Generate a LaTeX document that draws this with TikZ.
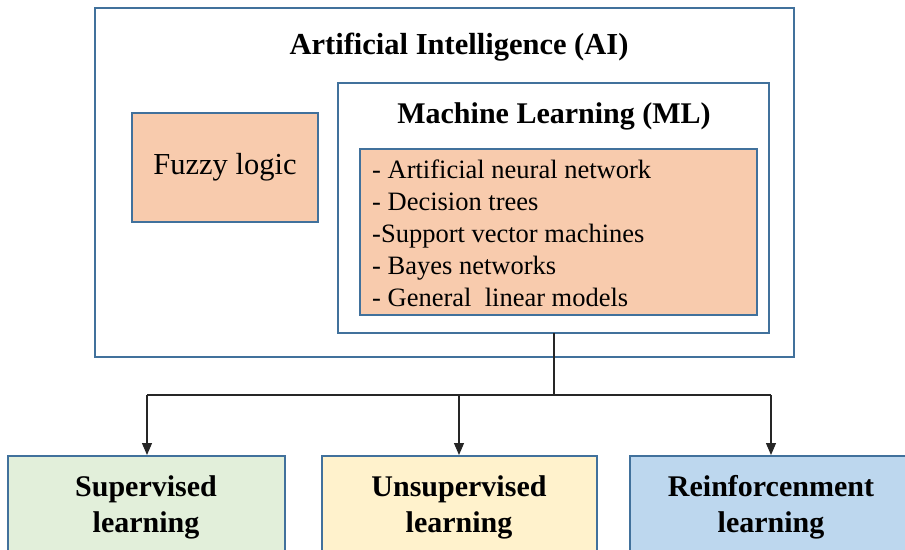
\documentclass[tikz,border=0pt]{standalone}
\usepackage{fontspec}
\setmainfont{Liberation Serif}
\usetikzlibrary{arrows.meta}
\definecolor{edgeblue}{HTML}{41719C}
\definecolor{peach}{HTML}{F8CBAD}
\definecolor{palegreen}{HTML}{E2EFDA}
\definecolor{paleyellow}{HTML}{FFF2CC}
\definecolor{paleblue}{HTML}{BDD7EE}
\tikzset{
  frame/.style={draw=edgeblue, line width=2.2pt, fill=white},
  panel/.style={draw=edgeblue, line width=2.2pt},
  branch/.style={draw=black!85, line width=1.2pt},
  arrowed/.style={branch, -{Triangle[length=12pt,width=10pt]}},
  bottomlabel/.style={font=\fontsize{30}{36}\selectfont\bfseries, align=center},
}
\begin{document}
\begin{tikzpicture}[x=1pt, y=-1pt]
\useasboundingbox (0,0) rectangle (905,549);

% outer AI frame
\draw[frame] (95,8) rectangle (794,357);
\node[font=\fontsize{30.5}{36}\selectfont\bfseries] (aititle) at (459,47) {Artificial Intelligence (AI)};

% fuzzy logic panel
\draw[panel, fill=peach] (132,113) rectangle (318,222);
\node[font=\fontsize{30.5}{36}\selectfont] (fuzzy) at (225,167) {Fuzzy logic};

% machine learning frame
\draw[frame] (338,83) rectangle (769,333);
\coordinate (mlbottom) at (554,333);
\node[font=\fontsize{30}{36}\selectfont\bfseries] (mltitle) at (554,116) {Machine Learning (ML)};

% list of ML methods
\draw[panel, fill=peach] (360,149) rectangle (757,315);
\node[font=\fontsize{26.5}{31.8}\selectfont, align=left, anchor=north west, inner sep=0pt] (methods) at (372,160)
  {- Artificial neural network\\
   - Decision trees\\
   -Support vector machines\\
   - Bayes networks\\
   - General\ \ linear models};

% learning paradigms
\draw[panel, fill=palegreen] (8,456) rectangle (285,560);
\draw[panel, fill=paleyellow] (322,456) rectangle (597,560);
\draw[panel, fill=paleblue] (630,456) rectangle (915,560);
\coordinate (suptop) at (147,455);
\coordinate (unstop) at (459,455);
\coordinate (reitop) at (771,455);
\node[bottomlabel] (sup) at (146,507) {Supervised\\learning};
\node[bottomlabel] (uns) at (459,507) {Unsupervised\\learning};
\node[bottomlabel] (rei) at (771,507) {Reinforcenment\\learning};

% connectors
\coordinate (split) at (554,395);
\coordinate (leftturn) at (147,395);
\coordinate (rightturn) at (771,395);
\draw[branch] (mlbottom) -- (split);
\draw[branch] (leftturn) -- (rightturn);
\draw[arrowed] (leftturn) -- (suptop);
\draw[arrowed] (459,395) -- (unstop);
\draw[arrowed] (rightturn) -- (reitop);
\end{tikzpicture}
\end{document}
